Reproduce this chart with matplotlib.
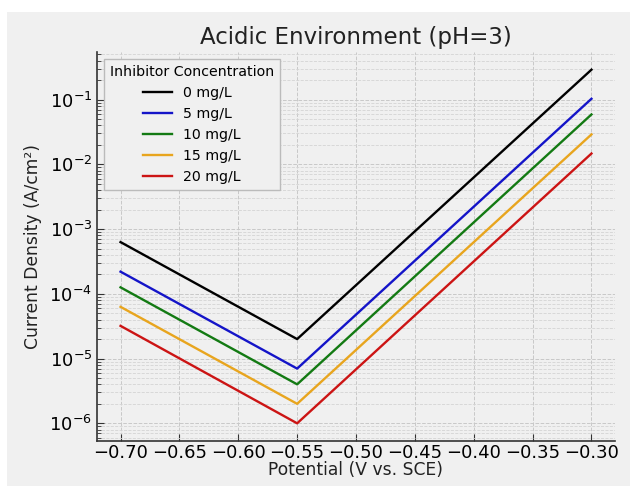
import matplotlib.pyplot as plt
from matplotlib.patches import Rectangle
from matplotlib.ticker import LogLocator, NullFormatter

# potentials where the polarization branches meet/end
potential = [-0.70, -0.55, -0.30]

# current density (A/cm2)
conc_0 = [6.3e-4, 2.0e-5, 2.9e-1]
conc_5 = [2.2e-4, 7.0e-6, 1.03e-1]
conc_10 = [1.26e-4, 4.0e-6, 5.9e-2]
conc_15 = [6.3e-5, 2.0e-6, 2.9e-2]
conc_20 = [3.2e-5, 1.0e-6, 1.47e-2]

labels = ['0 mg/L', '5 mg/L', '10 mg/L', '15 mg/L', '20 mg/L']
colors = ['#000000', '#1414c8', '#137a13', '#e8a51e', '#cc1414']

bg = '#f0f0f0'

fig = plt.figure(figsize=(6.3, 4.86), dpi=100, facecolor='white')
fig.patches.append(Rectangle((7 / 630, 0), 1 - 7 / 630, 1 - 12 / 486, transform=fig.transFigure,
                             facecolor=bg, edgecolor='none', zorder=-10))
ax = fig.add_axes([97 / 630, 45 / 486, 518 / 630, 389 / 486])
ax.set_facecolor(bg)

for series, lab, col in zip([conc_0, conc_5, conc_10, conc_15, conc_20], labels, colors):
    ax.plot(potential, series, color=col, lw=1.7, label=lab)

ax.set_yscale('log')
ax.set_yticks([1e-6, 1e-5, 1e-4, 1e-3, 1e-2, 1e-1])
ax.yaxis.set_minor_locator(LogLocator(base=10, subs=range(2, 10)))
ax.yaxis.set_minor_formatter(NullFormatter())
ax.set_xticks([-0.70, -0.65, -0.60, -0.55, -0.50, -0.45, -0.40, -0.35, -0.30])
ax.set_xticklabels(['\u22120.70', '\u22120.65', '\u22120.60', '\u22120.55', '\u22120.50',
                    '\u22120.45', '\u22120.40', '\u22120.35', '\u22120.30'])

ax.grid(True, which='major', ls='--', color='#c8c8c8', lw=0.7)
ax.grid(True, which='minor', axis='y', ls='--', color='#d4d4d4', lw=0.6)
for s in ['top', 'right']:
    ax.spines[s].set_visible(False)
for s in ['left', 'bottom']:
    ax.spines[s].set_color('#333333')
    ax.spines[s].set_linewidth(1.2)
ax.tick_params(axis='both', which='both', direction='in', labelsize=13, color='#333333')
ax.tick_params(axis='both', which='major', length=5)
ax.tick_params(axis='x', which='major', pad=2.5)
ax.tick_params(axis='y', which='minor', length=3)

ax.set_title('Acidic Environment (pH=3)', fontsize=16.5, color='#222222', pad=6)
ax.set_xlabel('Potential (V vs. SCE)', fontsize=12.3, color='#222222', labelpad=-1)
ax.set_ylabel('Current Density (A/cm\u00b2)', fontsize=12.3, color='#222222', labelpad=5)

leg = ax.legend(title='Inhibitor Concentration', loc='upper left', fontsize=10.2,
                title_fontsize=10.2, facecolor=bg, edgecolor='#bbbbbb', framealpha=1,
                fancybox=False, borderaxespad=0.5)

fig.savefig('out.png', dpi=100, facecolor=fig.get_facecolor())
